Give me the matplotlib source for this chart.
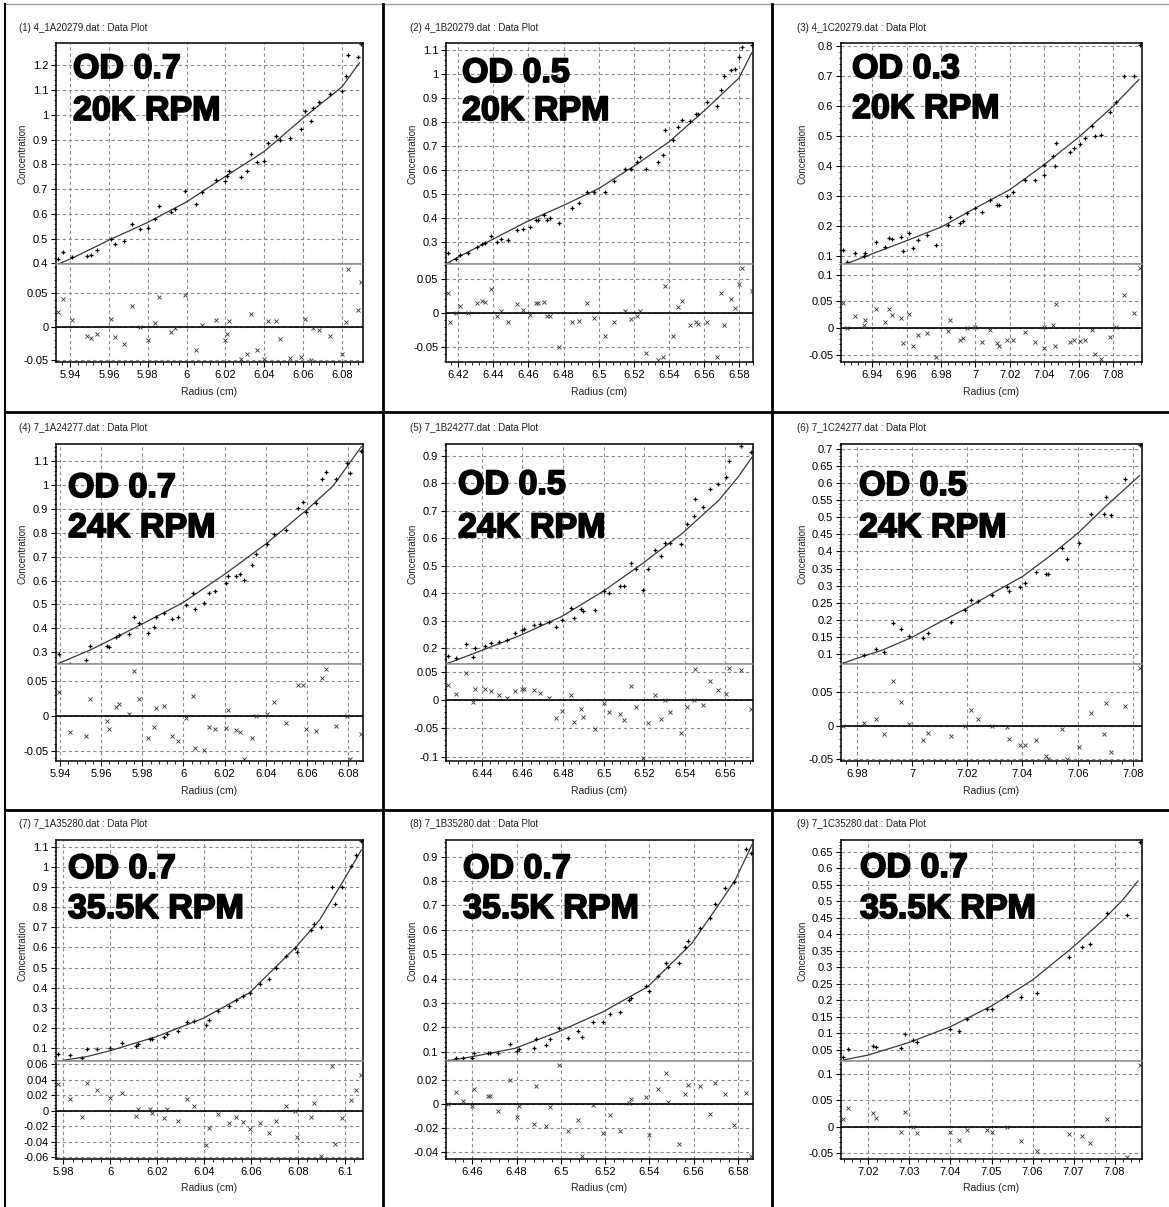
import matplotlib
matplotlib.use('Agg')
import matplotlib.pyplot as plt
import matplotlib.patheffects as pe
from matplotlib.ticker import MultipleLocator, AutoMinorLocator, FuncFormatter
from matplotlib.lines import Line2D

plt.rcParams['font.family'] = ['Liberation Sans', 'DejaVu Sans']

# ---------------- data ----------------
titles = ["(1) 4_1A20279.dat : Data Plot", "(2) 4_1B20279.dat : Data Plot",
          "(3) 4_1C20279.dat : Data Plot", "(4) 7_1A24277.dat : Data Plot",
          "(5) 7_1B24277.dat : Data Plot", "(6) 7_1C24277.dat : Data Plot",
          "(7) 7_1A35280.dat : Data Plot", "(8) 7_1B35280.dat : Data Plot",
          "(9) 7_1C35280.dat : Data Plot"]
od_labels = ["OD 0.7", "OD 0.5", "OD 0.3", "OD 0.7", "OD 0.5", "OD 0.5",
             "OD 0.7", "OD 0.7", "OD 0.7"]
rpm_labels = ["20K RPM", "20K RPM", "20K RPM", "24K RPM", "24K RPM", "24K RPM",
              "35.5K RPM", "35.5K RPM", "35.5K RPM"]

# panel 1
r1 = [5.934, 5.9363, 5.941, 5.949, 5.951, 5.954, 5.961, 5.963, 5.968, 5.972,
      5.976, 5.980, 5.984, 5.986, 5.992, 5.994, 5.999, 6.005, 6.008, 6.015,
      6.020, 6.021, 6.022, 6.028, 6.031, 6.033, 6.036, 6.040, 6.042, 6.046,
      6.048, 6.053, 6.059, 6.061, 6.064, 6.065, 6.068, 6.074, 6.080, 6.082,
      6.083, 6.088, 6.090]
c1 = [0.418, 0.445, 0.424, 0.430, 0.434, 0.454, 0.499, 0.478, 0.488, 0.558,
      0.540, 0.544, 0.579, 0.632, 0.608, 0.619, 0.693, 0.641, 0.686, 0.737,
      0.732, 0.751, 0.772, 0.747, 0.772, 0.843, 0.808, 0.812, 0.886, 0.913,
      0.897, 0.905, 0.944, 1.014, 0.976, 1.028, 1.050, 1.084, 1.095, 1.158,
      1.243, 1.234, 1.284]
res1 = [0.0215, 0.0415, 0.010, -0.014, -0.0175, -0.011, 0.0115, -0.016, -0.0255, 0.0315,
        0.0, -0.0205, 0.0055, 0.0445, -0.0075, -0.0025, 0.0475, -0.035, 0.0025, 0.010,
        -0.0205, -0.011, 0.0085, -0.048, -0.0415, 0.0185, -0.035, -0.048, 0.0085, 0.0085,
        -0.019, -0.0475, -0.046, 0.0115, -0.0505, -0.0025, -0.0045, -0.014, -0.0415, 0.007,
        0.087, 0.025, 0.0675]
fit_r1 = [5.934, 5.941, 5.961, 5.98, 6.0, 6.02, 6.04, 6.06, 6.08, 6.089]
fit_c1 = [0.397, 0.42, 0.497, 0.565, 0.648, 0.751, 0.852, 0.987, 1.113, 1.21]

# panel 2
r2 = [6.4139, 6.4152, 6.4187, 6.421, 6.4257, 6.4307, 6.4337, 6.4354, 6.4387, 6.4423,
      6.4442, 6.4486, 6.4533, 6.4571, 6.4608, 6.4642, 6.4653, 6.4690, 6.4703, 6.4720,
      6.4773, 6.4850, 6.4886, 6.4933, 6.4971, 6.5034, 6.5086, 6.5149, 6.5183, 6.5221,
      6.5238, 6.5269, 6.5337, 6.5366, 6.5377, 6.5425, 6.5451, 6.5474, 6.552, 6.5556,
      6.5566, 6.5619, 6.5672, 6.570, 6.5714, 6.5756, 6.578, 6.58, 6.582, 6.5872]
c2 = [0.2556, 0.2106, 0.232, 0.249, 0.2556, 0.281, 0.294, 0.297, 0.328, 0.301,
      0.314, 0.311, 0.353, 0.357, 0.364, 0.392, 0.394, 0.414, 0.394, 0.401,
      0.381, 0.443, 0.4625, 0.511, 0.508, 0.508, 0.554, 0.6056, 0.6056, 0.635,
      0.654, 0.6056, 0.633, 0.6625, 0.769, 0.725, 0.7806, 0.811, 0.8056, 0.833,
      0.836, 0.883, 0.8667, 0.936, 0.9917, 1.0194, 1.022, 1.072, 1.114, 1.1236]
res2 = [0.030, -0.0137, 0.0, 0.0108, 0.0, 0.0147, 0.018, 0.0157, 0.035, -0.0049,
        0.0034, -0.0137, 0.0132, 0.0049, -0.0029, 0.0147, 0.0147, 0.016, -0.004, -0.004,
        -0.049, -0.0123, -0.0113, 0.0147, -0.0064, -0.034, -0.0123, 0.0034, -0.0088, -0.0049,
        0.0025, -0.0588, -0.0686, -0.0637, 0.040, -0.0333, 0.0083, 0.0172, -0.0172, -0.0123,
        -0.0157, -0.0123, -0.065, 0.030, -0.0172, 0.021, 0.0074, 0.043, 0.0657, 0.0319]
fit_r2 = [6.413, 6.42, 6.44, 6.459, 6.48, 6.5, 6.52, 6.54, 6.5604, 6.58, 6.5872]
fit_c2 = [0.21, 0.239, 0.314, 0.386, 0.454, 0.524, 0.617, 0.718, 0.85, 0.985, 1.089]

# panel 3
r3 = [6.9234, 6.9255, 6.9303, 6.9354, 6.9361, 6.9423, 6.9473, 6.9498, 6.9518, 6.9566,
      6.958, 6.9616, 6.9636, 6.9668, 6.9717, 6.9771, 6.9838, 6.9854, 6.9912, 6.9929,
      6.9948, 6.9998, 7.0037, 7.0083, 7.0126, 7.0136, 7.0184, 7.0218, 7.0286, 7.0344,
      7.0396, 7.0397, 7.045, 7.0464, 7.047, 7.0547, 7.057, 7.0608, 7.0635, 7.0674,
      7.0693, 7.0728, 7.078, 7.0813, 7.0863, 7.0921, 7.0952]
c3 = [0.122, 0.080, 0.111, 0.1, 0.111, 0.147, 0.131, 0.16, 0.158, 0.163,
      0.117, 0.178, 0.128, 0.153, 0.172, 0.138, 0.2056, 0.23, 0.211, 0.219,
      0.244, 0.261, 0.248, 0.289, 0.272, 0.272, 0.301, 0.313, 0.353, 0.356,
      0.370, 0.403, 0.433, 0.4, 0.478, 0.447, 0.461, 0.4756, 0.494, 0.533,
      0.5, 0.5056, 0.58, 0.613, 0.702, 0.702, 0.8056]
res3 = [0.047, 0.001, 0.022, 0.006, 0.0156, 0.036, 0.0125, 0.036, 0.0256, 0.02,
        -0.028, 0.026, -0.033, -0.0125, -0.008, -0.054, -0.005, 0.0156, -0.0225, -0.019,
        0.0, 0.003, -0.025, -0.003, -0.027, -0.0325, -0.0225, -0.0225, -0.007, -0.026,
        -0.0375, 0.003, 0.006, -0.0325, 0.045, -0.026, -0.021, -0.024, -0.0225, -0.003,
        -0.0475, -0.058, -0.0156, 0.002, 0.0625, 0.028, 0.1125]
fit_r3 = [6.9253, 6.94, 6.96, 6.98, 7.0, 7.0199, 7.04, 7.0599, 7.0798, 7.0948]
fit_c3 = [0.0756, 0.108, 0.152, 0.197, 0.261, 0.322, 0.406, 0.497, 0.6, 0.689]

# panel 4
r4 = [5.9397, 5.9448, 5.9527, 5.9547, 5.9627, 5.9637, 5.9674, 5.9684, 5.9735, 5.9758,
      5.9784, 5.9826, 5.9856, 5.9868, 5.9903, 5.9945, 5.9971, 6.001, 6.0044, 6.0055,
      6.0102, 6.0124, 6.0155, 6.0205, 6.0216, 6.0253, 6.0276, 6.0294, 6.0335, 6.0353,
      6.0406, 6.0442, 6.0497, 6.0555, 6.0582, 6.0598, 6.0642, 6.0673, 6.0695, 6.074,
      6.0795, 6.0808, 6.0865]
c4 = [0.293, 0.252, 0.268, 0.328, 0.328, 0.321, 0.363, 0.371, 0.377, 0.449,
      0.424, 0.382, 0.407, 0.446, 0.463, 0.441, 0.449, 0.499, 0.547, 0.481,
      0.505, 0.547, 0.558, 0.591, 0.621, 0.619, 0.628, 0.602, 0.664, 0.71,
      0.753, 0.795, 0.811, 0.905, 0.93, 0.888, 0.923, 1.023, 1.054, 1.023,
      1.092, 1.048, 1.142]
res4 = [0.0337, -0.023, -0.029, 0.024, -0.0072, -0.019, 0.013, 0.0163, 0.0024, 0.065,
        0.024, -0.0317, -0.0168, 0.0115, 0.0139, -0.029, -0.0365, -0.0038, 0.0288, -0.046,
        -0.0486, -0.0159, -0.0183, -0.0173, 0.0082, -0.0207, -0.0236, -0.0615, -0.0317, 0.0,
        0.0024, 0.0197, -0.0101, 0.0442, 0.0442, -0.0183, -0.0212, 0.0538, 0.0678, -0.0144,
        0.0, -0.0625, -0.0255]
fit_r4 = [5.9385, 5.9547, 5.9758, 5.9998, 6.0206, 6.0405, 6.0598, 6.0727, 6.0865]
fit_c4 = [0.251, 0.31, 0.4, 0.508, 0.63, 0.756, 0.895, 0.995, 1.16]

# panel 5
r5 = [6.4232, 6.4273, 6.4323, 6.4354, 6.4367, 6.4413, 6.4446, 6.4484, 6.4525, 6.4565,
      6.4597, 6.4605, 6.4655, 6.4684, 6.4729, 6.4765, 6.4796, 6.484, 6.4855, 6.4888,
      6.4896, 6.4955, 6.5, 6.5024, 6.5079, 6.5098, 6.5136, 6.5159, 6.5192, 6.5218,
      6.5251, 6.5282, 6.5304, 6.5328, 6.5383, 6.5411, 6.5444, 6.5452, 6.549, 6.5522,
      6.5563, 6.5603, 6.5616, 6.5677, 6.5726]
c5 = [0.171, 0.1626, 0.2133, 0.1686, 0.1988, 0.2084, 0.218, 0.2217, 0.2278, 0.2531,
      0.2664, 0.2688, 0.2845, 0.2869, 0.2965, 0.276, 0.3026, 0.3472, 0.3086, 0.3424,
      0.3352, 0.3388, 0.4088, 0.4015, 0.4257, 0.4257, 0.5078, 0.486, 0.4112, 0.4884,
      0.5572, 0.5355, 0.5826, 0.5826, 0.579, 0.6502, 0.6803, 0.7431, 0.7141, 0.7793,
      0.795, 0.8215, 0.8819, 0.9338, 0.912]
res5 = [0.028, 0.0118, 0.0488, -0.003, 0.0194, 0.0194, 0.0165, 0.01, 0.0047, 0.0159,
        0.0194, 0.0194, 0.0176, 0.0135, 0.0047, -0.0306, -0.0194, 0.01, -0.0394, -0.0153,
        -0.0288, -0.0512, -0.0041, -0.0206, -0.0235, -0.0347, 0.0253, -0.0112, -0.1024, -0.0412,
        0.01, -0.0324, 0.0, -0.0206, -0.0588, -0.0112, 0.0, 0.0559, -0.0088, 0.0353,
        0.0176, 0.0106, 0.0576, 0.0535, -0.0147]
fit_r5 = [6.4223, 6.44, 6.4592, 6.4794, 6.5, 6.5192, 6.5386, 6.5567, 6.5665, 6.5731]
fit_c5 = [0.142, 0.1916, 0.247, 0.315, 0.4076, 0.5078, 0.616, 0.737, 0.824, 0.894]

# panel 6
r6 = [6.9752, 6.9828, 6.987, 6.9898, 6.993, 6.9961, 6.9988, 7.0039, 7.0058, 7.0141,
      7.0193, 7.0212, 7.024, 7.029, 7.0343, 7.0353, 7.0393, 7.0411, 7.045, 7.0484,
      7.0492, 7.0543, 7.0561, 7.0604, 7.065, 7.0694, 7.0702, 7.0722, 7.0772, 7.0824]
c6 = [0.072, 0.098, 0.1146, 0.1058, 0.1925, 0.173, 0.1536, 0.1477, 0.1633, 0.1955,
      0.2295, 0.2588, 0.2558, 0.2734, 0.2958, 0.286, 0.2958, 0.3094, 0.3416, 0.3347,
      0.3347, 0.4097, 0.3786, 0.4234, 0.5081, 0.5091, 0.5587, 0.5052, 0.6113, 0.7117]
res6 = [0.0, 0.0045, 0.0095, -0.013, 0.0665, 0.0355, 0.003, -0.0215, -0.0115, -0.015,
        0.0, 0.024, 0.0095, 0.0, -0.0025, -0.02, -0.0295, -0.0295, -0.0215, -0.046,
        -0.05, -0.0055, -0.0505, -0.0325, 0.0195, -0.013, 0.034, -0.039, 0.029, 0.086]
fit_r6 = [6.9743, 6.98, 6.9894, 7.0, 7.01, 7.02, 7.03, 7.04, 7.05, 7.0601, 7.0701, 7.0824]
fit_c6 = [0.0718, 0.0883, 0.1127, 0.1497, 0.1935, 0.2354, 0.282, 0.327, 0.387, 0.4536, 0.5315, 0.6211]

# panel 7
r7 = [5.9779, 5.9828, 5.9879, 5.9899, 5.9942, 6.0, 6.0051, 6.0108, 6.0119, 6.0169,
      6.018, 6.0228, 6.024, 6.0289, 6.0326, 6.0357, 6.041, 6.042, 6.0461, 6.0504,
      6.0538, 6.0566, 6.0597, 6.0638, 6.0675, 6.0708, 6.0748, 6.0789, 6.0796, 6.0854,
      6.0868, 6.0896, 6.0946, 6.0956, 6.0987, 6.1024, 6.1048, 6.107]
c7 = [0.0702, 0.0653, 0.0537, 0.0983, 0.0983, 0.1, 0.1248, 0.1116, 0.1215, 0.1463,
      0.1463, 0.1579, 0.1711, 0.1876, 0.2322, 0.2372, 0.2141, 0.2405, 0.2851, 0.3099,
      0.3397, 0.3595, 0.376, 0.419, 0.4438, 0.4967, 0.5579, 0.5992, 0.5777, 0.6868,
      0.7165, 0.7, 0.8983, 0.8157, 0.9017, 1.0041, 1.0587, 1.128]
res7 = [0.0341, 0.0156, -0.0086, 0.0363, 0.0268, 0.016, 0.0233, -0.0069, 0.0022, 0.0022,
        -0.0026, -0.0099, 0.0017, -0.013, 0.0151, 0.006, -0.0449, -0.0229, -0.0039, -0.0164,
        -0.0078, -0.0143, -0.0238, -0.0156, -0.0294, -0.0138, 0.0056, 0.0, -0.0337, -0.0086,
        0.0095, -0.0587, 0.0583, -0.0432, -0.0099, 0.0138, 0.0263, 0.0458]
fit_r7 = [5.9779, 5.9899, 6.0, 6.0197, 6.0396, 6.0594, 6.0793, 6.0892, 6.0991, 6.107]
fit_c7 = [0.0372, 0.0587, 0.0884, 0.1579, 0.2488, 0.376, 0.6041, 0.7364, 0.9264, 1.0835]

# panel 8
r8 = [6.4488, 6.4526, 6.4556, 6.46, 6.4609, 6.4669, 6.468, 6.4718, 6.477, 6.4803,
      6.4811, 6.4879, 6.4889, 6.4933, 6.4951, 6.499, 6.5031, 6.5078, 6.5094, 6.5143,
      6.5192, 6.5222, 6.5265, 6.5307, 6.5316, 6.5384, 6.54, 6.5438, 6.5476, 6.5486,
      6.5534, 6.5562, 6.5574, 6.5629, 6.5675, 6.5697, 6.5742, 6.578, 6.5837, 6.586]
c8 = [0.0617, 0.0754, 0.0754, 0.0754, 0.0932, 0.0932, 0.0932, 0.0932, 0.1301, 0.1041,
      0.1096, 0.115, 0.1506, 0.1274, 0.152, 0.1985, 0.1547, 0.1862, 0.1588, 0.2231,
      0.2231, 0.2546, 0.2628, 0.312, 0.3216, 0.3709, 0.3503, 0.4119, 0.4625, 0.4488,
      0.4625, 0.531, 0.5542, 0.6062, 0.6499, 0.7047, 0.7703, 0.7977, 0.9304, 0.9167]
res8 = [0.0, 0.0098, 0.0025, -0.0014, 0.0129, 0.0065, 0.0065, -0.0056, 0.0202, -0.0107,
        -0.0014, -0.0171, 0.0152, -0.0183, -0.0028, 0.0329, -0.0228, -0.0135, -0.0438, -0.0011,
        -0.0247, -0.009, -0.0228, 0.0011, 0.0039, 0.0056, -0.0261, 0.0129, 0.0258, 0.0017,
        -0.0337, 0.0081, 0.016, 0.0152, -0.0087, 0.018, 0.0081, -0.0177, 0.009, -0.0435]
fit_r8 = [6.4481, 6.46, 6.4793, 6.499, 6.5192, 6.5393, 6.5592, 6.5697, 6.5788, 6.5868]
fit_c8 = [0.0617, 0.0795, 0.1137, 0.1821, 0.2642, 0.3668, 0.5446, 0.6814, 0.8045, 0.9577]

# panel 9
r9 = [7.0139, 7.0151, 7.0211, 7.0219, 7.0279, 7.0289, 7.0309, 7.0318, 7.04, 7.0421,
      7.044, 7.049, 7.05, 7.0539, 7.0572, 7.061, 7.0689, 7.0721, 7.0739, 7.0782,
      7.0831, 7.0861]
c9 = [0.0298, 0.054, 0.0631, 0.0581, 0.055, 0.0984, 0.0803, 0.0732, 0.1125, 0.1085,
      0.1428, 0.173, 0.173, 0.2134, 0.2093, 0.2234, 0.3323, 0.3616, 0.3707, 0.4654,
      0.4584, 0.6802]
res9 = [0.0147, 0.0359, 0.0256, 0.0167, -0.0096, 0.0276, 0.0, -0.0122, -0.0096, -0.025,
        -0.0064, -0.0064, -0.0096, 0.0, -0.0269, -0.0462, -0.0141, -0.0186, -0.0308, 0.0147,
        -0.0577, 0.1173]
fit_r9 = [7.0139, 7.02, 7.03, 7.04, 7.05, 7.06, 7.07, 7.0772, 7.082, 7.0857]
fit_c9 = [0.0197, 0.0349, 0.0732, 0.1206, 0.1831, 0.2618, 0.3626, 0.4433, 0.5038, 0.5612]

# axis ranges and tick steps
xlims = [(5.9328, 6.0908), (6.413, 6.588), (6.922, 7.0966), (5.938, 6.0873),
         (6.4223, 6.5736), (6.9743, 7.0833), (5.9769, 6.1077), (6.4481, 6.5868),
         (7.0133, 7.0867)]
main_ylims = [(0.397, 1.29), (0.2097, 1.131), (0.0744, 0.811), (0.2512, 1.171),
              (0.142, 0.942), (0.0718, 0.7136), (0.0372, 1.133), (0.0617, 0.968),
              (0.0167, 0.6853)]
res_ylims = [(-0.053, 0.094), (-0.0716, 0.072), (-0.063, 0.12), (-0.065, 0.0745),
             (-0.108, 0.0647), (-0.053, 0.0925), (-0.0626, 0.0644), (-0.0463, 0.0362),
             (-0.062, 0.125)]
x_steps = [0.02, 0.02, 0.02, 0.02, 0.02, 0.02, 0.02, 0.02, 0.01]
main_steps = [0.1, 0.1, 0.1, 0.1, 0.1, 0.05, 0.1, 0.1, 0.05]
res_steps = [0.05, 0.05, 0.05, 0.05, 0.05, 0.05, 0.02, 0.02, 0.05]

panels = [(r1, c1, res1, fit_r1, fit_c1), (r2, c2, res2, fit_r2, fit_c2),
          (r3, c3, res3, fit_r3, fit_c3), (r4, c4, res4, fit_r4, fit_c4),
          (r5, c5, res5, fit_r5, fit_c5), (r6, c6, res6, fit_r6, fit_c6),
          (r7, c7, res7, fit_r7, fit_c7), (r8, c8, res8, fit_r8, fit_c8),
          (r9, c9, res9, fit_r9, fit_c9)]

# ---------------- layout (pixels) ----------------
W, H = 1169, 1207
col_left = [56, 446, 841]
col_right = [363, 753, 1142]
row_top = [43, 444, 840]
row_div = [264, 664, 1061]
row_bot = [362, 761, 1159]
title_x = [19, 410, 797]
title_y = [28, 428, 824]
ylab_x = [23, 412, 802]
xlab_y = [392, 791, 1188]
# big label: x offset from axes left, first baseline from axes top, line gap
big_pos = [(17, 35, 42), (16, 39, 38), (11, 35, 40),
           (12, 53, 40), (12, 50, 43), (18, 51, 42),
           (12, 38, 40), (17, 38, 40), (19, 37, 41)]

fig = plt.figure(figsize=(W / 100, H / 100), dpi=100)


def fx(px):
    return px / W


def fy(py):
    return 1 - py / H


def fmt(v, pos):
    v = round(v, 6) + 0.0
    return f'{v:g}'


grid_kw = dict(color='#8c8c8c', linestyle=(0, (3, 2.5)), linewidth=0.8)
heavy = [pe.withStroke(linewidth=1.3, foreground='black')]

for i, (r, c, res, fr, fc) in enumerate(panels):
    row, col = divmod(i, 3)
    L, R = col_left[col], col_right[col]
    T, D, B = row_top[row], row_div[row], row_bot[row]

    ax = fig.add_axes([fx(L), fy(D), (R - L) / W, (D - T) / H])
    axr = fig.add_axes([fx(L), fy(B), (R - L) / W, (B - D) / H], sharex=ax)

    # data + fit
    ax.plot(fr, fc, color='#3a3a3a', lw=0.9, zorder=3)
    ax.plot(r, c, linestyle='none', marker='+', ms=3.2, mew=0.9, color='black', zorder=4)
    axr.axhline(0, color='black', lw=1.2, zorder=2)
    axr.plot(r, res, linestyle='none', marker='x', ms=2.6, mew=0.6, color='#333333', zorder=4)

    ax.set_xlim(*xlims[i])
    ax.set_ylim(*main_ylims[i])
    axr.set_ylim(*res_ylims[i])

    for a, ystep in ((ax, main_steps[i]), (axr, res_steps[i])):
        a.xaxis.set_major_locator(MultipleLocator(x_steps[i]))
        a.xaxis.set_minor_locator(AutoMinorLocator(5))
        a.yaxis.set_major_locator(MultipleLocator(ystep))
        a.yaxis.set_minor_locator(AutoMinorLocator(5))
        a.yaxis.set_major_formatter(FuncFormatter(fmt))
        a.xaxis.set_major_formatter(FuncFormatter(fmt))
        a.grid(True, which='major', **grid_kw)
        a.set_axisbelow(True)
        a.tick_params(which='major', direction='out', length=3.5, width=0.8,
                      labelsize=8, pad=2, colors='black')
        a.tick_params(which='minor', direction='out', length=1.8, width=0.6)
        for s in a.spines.values():
            s.set_linewidth(1.1)
            s.set_color('black')

    ax.tick_params(axis='x', which='both', bottom=False, labelbottom=False)
    ax.spines['bottom'].set_color('#909090')
    axr.spines['top'].set_color('#909090')

    # big annotation
    dx, b1, gap = big_pos[i]
    for k, txt in enumerate((od_labels[i], rpm_labels[i])):
        fig.text(fx(L + dx), fy(T + b1 + k * gap), txt, fontsize=24.5,
                 fontweight='bold', color='black', va='baseline', ha='left',
                 zorder=10, path_effects=heavy)

    fig.text(fx(title_x[col]), fy(title_y[row]), titles[i], fontsize=7,
             va='center', ha='left', color='#222222')
    fig.text(fx(ylab_x[col]), fy((T + D) / 2), 'Concentration', fontsize=7,
             rotation=90, va='center', ha='center', color='#222222')
    fig.text(fx((L + R) / 2), fy(xlab_y[row]), 'Radius (cm)', fontsize=7.5,
             va='center', ha='center', color='#222222')


# table borders
def hline(y, x0, x1, **kw):
    fig.add_artist(Line2D([fx(x0), fx(x1)], [fy(y), fy(y)], transform=fig.transFigure, **kw))


def vline(x, y0, y1, **kw):
    fig.add_artist(Line2D([fx(x), fx(x)], [fy(y0), fy(y1)], transform=fig.transFigure, **kw))


hline(4, 5, W, color='#a0a0a0', lw=1)
vline(5, 4, H, color='black', lw=1.5)
for xb in (383, 772):
    vline(xb, 4, H, color='black', lw=2)
for yb in (412, 810):
    hline(yb, 5, W, color='black', lw=2)

fig.savefig('out.png', dpi=100)
